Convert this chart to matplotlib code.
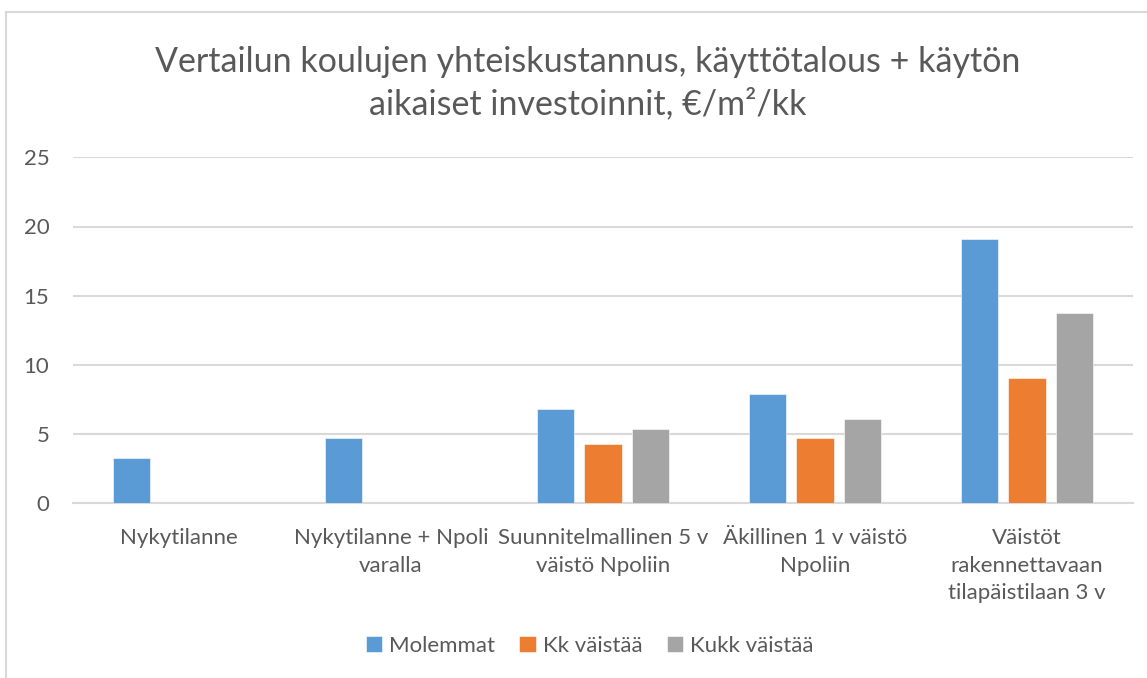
import numpy as np
import matplotlib.pyplot as plt
from matplotlib.patches import Rectangle

categories = ["Nykytilanne", "Nykytilanne + Npoli\nvaralla", "Suunnitelmallinen 5 v\nväistö Npoliin",
              "Äkillinen 1 v väistö\nNpoliin", "Väistöt\nrakennettavaan\ntilapäistilaan 3 v"]
series = ["Molemmat", "Kk väistää", "Kukk väistää"]
molemmat = [3.25, 4.7, 6.84, 7.87, 19.07]
kk = [np.nan, np.nan, 4.26, 4.70, 9.03]
kukk = [np.nan, np.nan, 5.39, 6.07, 13.77]
colors = ["#5B9BD5", "#ED7D31", "#A5A5A5"]

plt.rcParams['font.family'] = ['Lato', 'DejaVu Sans']
txt = "#595959"
grid = "#D9D9D9"

fig = plt.figure(figsize=(11.47, 6.78), dpi=100)
ax = fig.add_axes([73 / 1147, 1 - 503.3 / 678, (1133 - 73) / 1147, (503.3 - 157.3) / 678])

x = np.arange(len(categories))
step = 0.222
width = 0.175
for i, (vals, name) in enumerate(zip([molemmat, kk, kukk], series)):
    ax.bar(x + (i - 1) * step, vals, width, color=colors[i], label=name, zorder=3,
           edgecolor="white", linewidth=0.4)

ax.set_xlim(-0.5, len(categories) - 0.5)
ax.set_ylim(0, 25)
ax.set_yticks([0, 5, 10, 15, 20, 25])
ax.yaxis.grid(True, color=grid, linewidth=1.5, zorder=0)
ax.set_xticks(x)
ax.set_xticklabels(categories, linespacing=1.45)
ax.tick_params(axis='x', length=0, pad=18, labelsize=16, labelcolor=txt)
ax.tick_params(axis='y', length=0, pad=17, labelsize=16, labelcolor=txt)
for s in ['top', 'right', 'left']:
    ax.spines[s].set_visible(False)
ax.spines['bottom'].set_color(grid)
ax.spines['bottom'].set_linewidth(1.5)

fig.text(0.512, 1 - 62 / 678, "Vertailun koulujen yhteiskustannus, käyttötalous + käytön",
         ha='center', va='center', fontsize=24.5, color=txt)
fig.text(0.512, 1 - 104 / 678, "aikaiset investoinnit, €/m²/kk",
         ha='center', va='center', fontsize=24.5, color=txt)

leg = fig.legend(loc='center', bbox_to_anchor=(0.514, 1 - 646 / 678), ncol=3, frameon=False,
                 fontsize=16, handlelength=0.75, handleheight=0.75, handletextpad=0.3,
                 columnspacing=1.1, labelcolor=txt)

fig.patches.append(Rectangle((6 / 1147, -0.1), 1.2, 1 - 12 / 678 + 0.1, transform=fig.transFigure,
                             fill=False, edgecolor=grid, linewidth=1.5))

fig.savefig("out.png", dpi=100)
